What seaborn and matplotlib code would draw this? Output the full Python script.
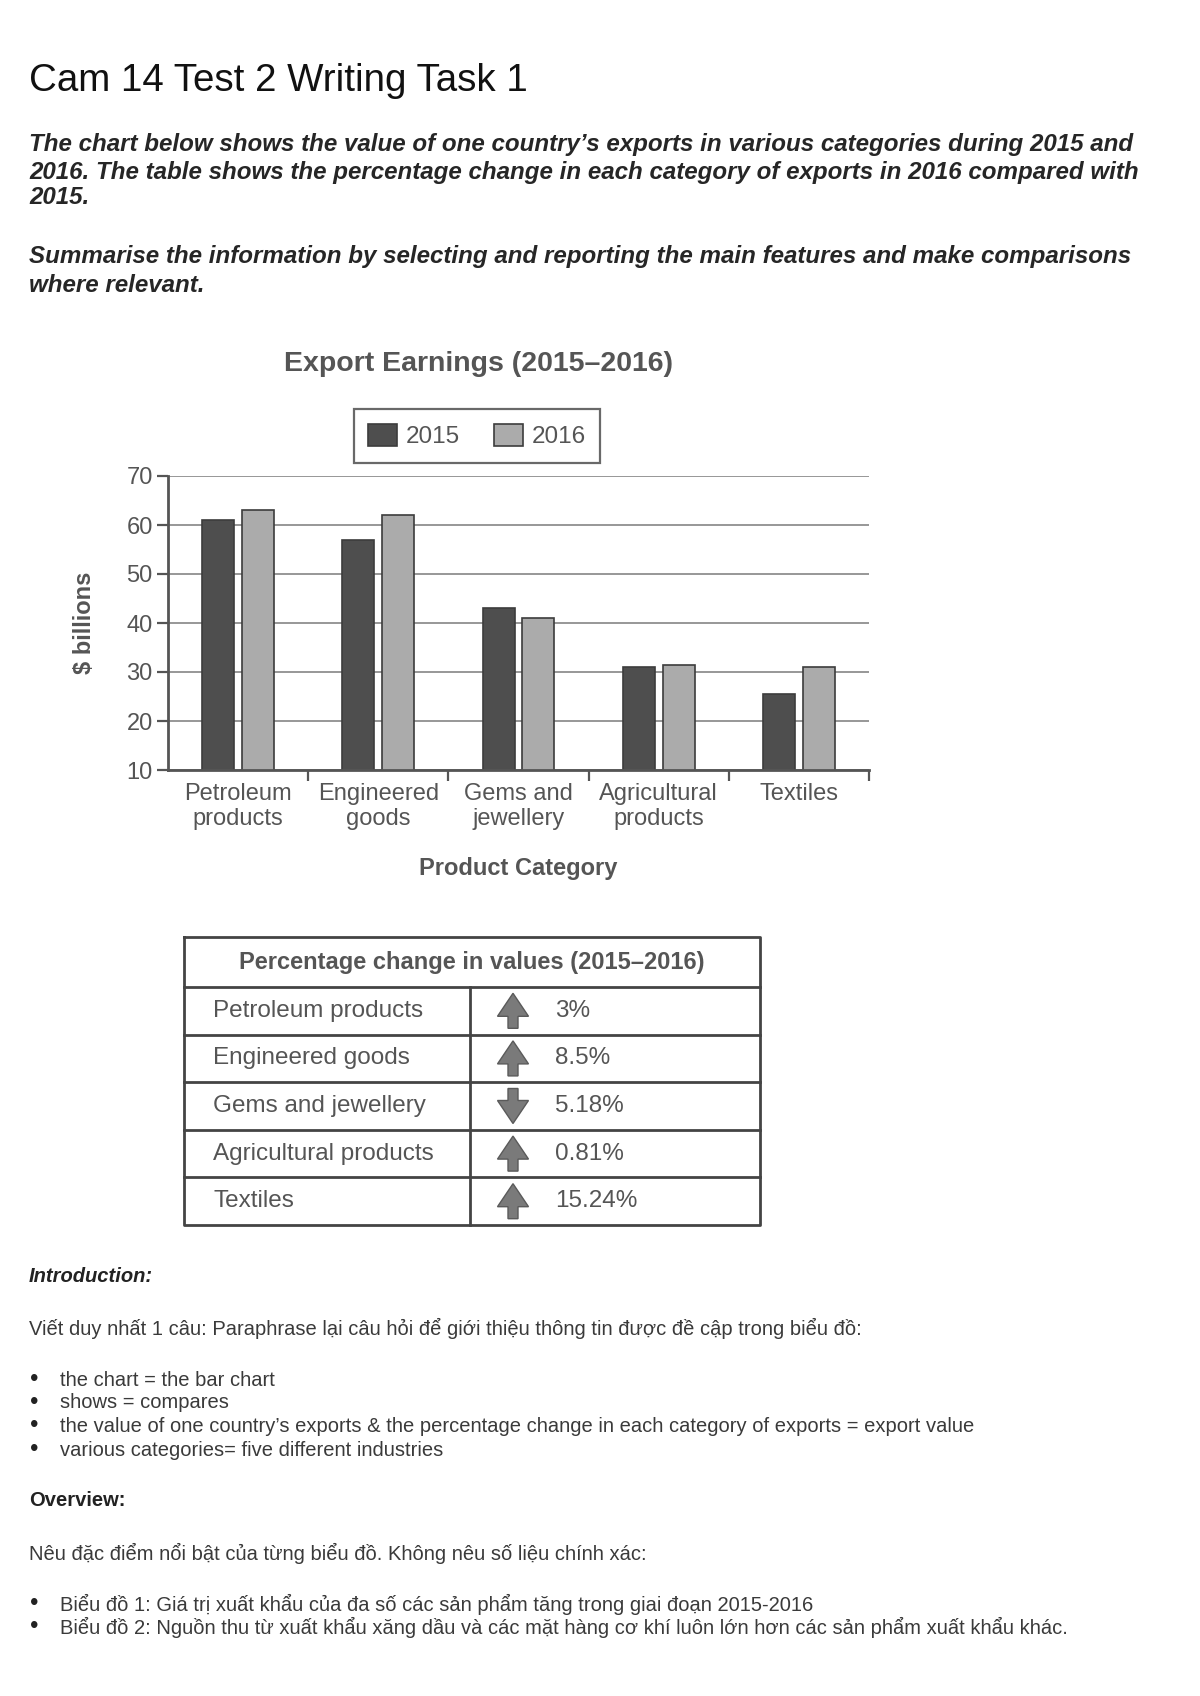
import numpy as np
import pandas as pd
import matplotlib
matplotlib.use("Agg")
import matplotlib.pyplot as plt
import seaborn as sns

# ---------------- data ----------------
categories = ["Petroleum\nproducts", "Engineered\ngoods", "Gems and\njewellery",
              "Agricultural\nproducts", "Textiles"]
years = ["2015", "2016"]
values_2015 = [61, 57, 43, 31, 25.5]
values_2016 = [63, 62, 41, 31.5, 31]
yticks = [10, 20, 30, 40, 50, 60, 70]

table_header = "Percentage change in values (2015\u20132016)"
table_items = ["Petroleum products", "Engineered goods", "Gems and jewellery",
               "Agricultural products", "Textiles"]
table_pct = ["3%", "8.5%", "5.18%", "0.81%", "15.24%"]
table_dir = [1, 1, -1, 1, 1]

doc_title = "Cam 14 Test 2 Writing Task 1"
prompt_lines = [
    "The chart below shows the value of one country\u2019s exports in various categories during 2015 and",
    "2016. The table shows the percentage change in each category of exports in 2016 compared with",
    "2015.",
]
prompt2_lines = [
    "Summarise the information by selecting and reporting the main features and make comparisons",
    "where relevant.",
]
intro_head = "Introduction:"
intro_text = "Vi\u1ebft duy nh\u1ea5t 1 c\u00e2u: Paraphrase l\u1ea1i c\u00e2u h\u1ecfi \u0111\u1ec3 gi\u1edbi thi\u1ec7u th\u00f4ng tin \u0111\u01b0\u1ee3c \u0111\u1ec1 c\u1eadp trong bi\u1ec3u \u0111\u1ed3:"
intro_bullets = [
    "the chart = the bar chart",
    "shows = compares",
    "the value of one country\u2019s exports & the percentage change in each category of exports = export value",
    "various categories= five different industries",
]
over_head = "Overview:"
over_text = "N\u00eau \u0111\u1eb7c \u0111i\u1ec3m n\u1ed5i b\u1eadt c\u1ee7a t\u1eebng bi\u1ec3u \u0111\u1ed3. Kh\u00f4ng n\u00eau s\u1ed1 li\u1ec7u ch\u00ednh x\u00e1c:"
over_bullets = [
    "Bi\u1ec3u \u0111\u1ed3 1: Gi\u00e1 tr\u1ecb xu\u1ea5t kh\u1ea9u c\u1ee7a \u0111a s\u1ed1 c\u00e1c s\u1ea3n ph\u1ea9m t\u0103ng trong giai \u0111o\u1ea1n 2015-2016",
    "Bi\u1ec3u \u0111\u1ed3 2: Ngu\u1ed3n thu t\u1eeb xu\u1ea5t kh\u1ea9u x\u0103ng d\u1ea7u v\u00e0 c\u00e1c m\u1eb7t h\u00e0ng c\u01a1 kh\u00ed lu\u00f4n l\u1edbn h\u01a1n c\u00e1c s\u1ea3n ph\u1ea9m xu\u1ea5t kh\u1ea9u kh\u00e1c.",
]

# ---------------- setup ----------------
sns.set_theme(style="white")
plt.rcParams["font.family"] = ["Liberation Sans", "DejaVu Sans"]

W, H = 1200, 1696
fig = plt.figure(figsize=(W / 100, H / 100), dpi=100)
fig.patch.set_facecolor("white")
renderer = fig.canvas.get_renderer()


def fx(x):
    return x / W


def fy(y):
    return 1 - y / H


def fit_size(s, target_w, **kw):
    t = fig.text(0, 0, s, fontsize=20, **kw)
    w = t.get_window_extent(renderer).width
    t.remove()
    return 20 * target_w / w


def put(x, y, s, size, **kw):
    return fig.text(fx(x), fy(y), s, fontsize=size, va="center", ha="left", **kw)


# ---------------- document text ----------------
ts = fit_size(doc_title, 498)
put(29, 81, doc_title, ts, color="#111111")

ps = fit_size(prompt_lines[0], 1106, style="italic", weight="bold")
for s, y in zip(prompt_lines, [144, 172, 198]):
    put(29, y, s, ps, style="italic", weight="bold", color="#262626")
for s, y in zip(prompt2_lines, [256, 285]):
    put(29, y, s, ps, style="italic", weight="bold", color="#262626")

bs = fit_size(intro_bullets[2], 908, color="#3a3a3a")
put(29, 1277, intro_head, bs, style="italic", weight="bold", color="#222222")
put(29, 1328, intro_text, bs, color="#3a3a3a")
for s, y in zip(intro_bullets, [1380, 1403, 1426, 1450]):
    put(30, y, "\u2022", bs * 1.2, color="#222222")
    put(60, y, s, bs, color="#3a3a3a")
put(29, 1501, over_head, bs, weight="bold", color="#222222")
put(29, 1553, over_text, bs, color="#3a3a3a")
for s, y in zip(over_bullets, [1604, 1627]):
    put(30, y, "\u2022", bs * 1.2, color="#222222")
    put(60, y, s, bs, color="#3a3a3a")

# ---------------- bar chart ----------------
ax = fig.add_axes([fx(168), fy(770), 701 / W, 294 / H])
df = pd.DataFrame({
    "Category": categories * 2,
    "Year": [years[0]] * len(categories) + [years[1]] * len(categories),
    "Value": values_2015 + values_2016,
})
sns.barplot(data=df, x="Category", y="Value", hue="Year",
            palette={"2015": "#4e4e4e", "2016": "#ababab"}, saturation=1,
            width=0.57, gap=0.2, edgecolor="#3c3c3c", linewidth=1.2, ax=ax)
ax.set_xlim(-0.5, len(categories) - 0.5)
ax.set_ylim(yticks[0], yticks[-1])
ax.set_yticks(yticks)
ax.yaxis.grid(True, color="#8f8f8f", lw=1.3)
ax.xaxis.grid(False)
ax.set_axisbelow(True)
for side in ["top", "right"]:
    ax.spines[side].set_visible(False)
for side in ["left", "bottom"]:
    ax.spines[side].set_color("#555555")
    ax.spines[side].set_linewidth(2)
ax.tick_params(axis="y", length=8, width=1.6, color="#555555", labelsize=17,
               labelcolor="#555555", pad=3, left=True)
ax.tick_params(axis="x", which="major", length=0, labelsize=17,
               labelcolor="#555555", pad=9)
ax.set_xticks(np.arange(0.5, len(categories), 1), minor=True)
ax.tick_params(axis="x", which="minor", length=8, width=1.6, color="#555555", bottom=True)
for lbl in ax.get_xticklabels():
    lbl.set_linespacing(1.2)

ax.set_ylabel("$ billions", fontsize=17, weight="bold", color="#555555")
ax.yaxis.set_label_coords(-0.103, 0.5)
ax.set_xlabel("Product Category", fontsize=17, weight="bold", color="#555555")
ax.xaxis.label.set_va("center")
ax.xaxis.set_label_coords(0.5, (770 - 868) / 294)

fig.text(fx(478), fy(364), "Export Earnings (2015\u20132016)", fontsize=20.5,
         weight="bold", color="#555555", ha="center", va="center")

handles, labels = ax.get_legend_handles_labels()
leg = ax.legend(handles, labels, loc="center",
                bbox_to_anchor=(fx(477), fy(436)), bbox_transform=fig.transFigure,
                ncol=2, frameon=True, fancybox=False, edgecolor="#444444",
                fontsize=17.5, handlelength=1.2, handleheight=1.05,
                columnspacing=1.4, handletextpad=0.35, borderpad=0.6,
                labelcolor="#555555")
leg.get_frame().set_linewidth(1.6)

# ---------------- table ----------------
tl, tr, tt, tb = 184, 760, 937, 1225
hb = 987
tax = fig.add_axes([fx(tl), fy(tb), (tr - tl) / W, (tb - tt) / H])
tax.set_xlim(tl, tr)
tax.set_ylim(tb, tt)
tax.axis("off")
n = len(table_items)
row_h = (tb - hb) / n
line_kw = dict(color="#444444", lw=2, clip_on=False, solid_capstyle="projecting")
tax.plot([tl, tr, tr, tl, tl], [tt, tt, tb, tb, tt], **line_kw)
for i in range(n):
    y = hb + i * row_h
    tax.plot([tl, tr], [y, y], **line_kw)
tax.plot([470, 470], [hb, tb], **line_kw)
tax.text((tl + tr) / 2, (tt + hb) / 2, table_header, fontsize=17, weight="bold",
         color="#555555", ha="center", va="center")
for i, (item, pct, d) in enumerate(zip(table_items, table_pct, table_dir)):
    yc = hb + (i + 0.5) * row_h
    tax.text(213, yc, item, fontsize=17.5, color="#555555", ha="left", va="center")
    tax.text(555, yc, pct, fontsize=17.5, color="#555555", ha="left", va="center")
    tax.arrow(513, yc + 17.5 * d, 0, -35 * d, width=10, head_width=31,
              head_length=23, length_includes_head=True,
              facecolor="#7a7a7a", edgecolor="#5a5a5a", lw=1)

fig.savefig("out.png", dpi=100, facecolor="white")
